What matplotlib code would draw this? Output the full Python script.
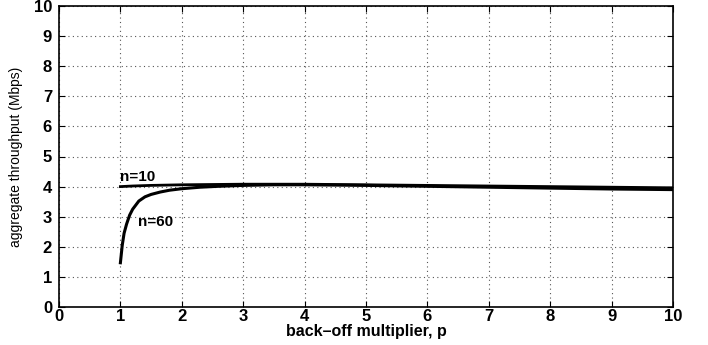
import matplotlib
matplotlib.use("Agg")
import matplotlib.pyplot as plt

# back-off multiplier values and throughput
p_n10 = [1.0, 1.2, 1.5, 2.0, 2.5, 3.0, 3.5, 4.0, 5.0, 6.0, 7.0, 8.0, 9.0, 10.0]
thr_n10 = [4.00, 4.02, 4.04, 4.06, 4.07, 4.08, 4.08, 4.08, 4.06, 4.04, 4.02, 4.00, 3.98, 3.96]

p_n60 = [1.0, 1.03, 1.06, 1.1, 1.15, 1.2, 1.3, 1.4, 1.5, 1.65, 1.8, 2.0, 2.3, 2.6,
         3.0, 3.5, 4.0, 5.0, 6.0, 7.0, 8.0, 9.0, 10.0]
thr_n60 = [1.47, 2.05, 2.45, 2.75, 3.05, 3.25, 3.52, 3.66, 3.74, 3.82, 3.88, 3.93, 3.98, 4.01,
           4.04, 4.06, 4.06, 4.04, 4.01, 3.98, 3.95, 3.92, 3.90]

xticks = list(range(0, 11))
yticks = list(range(0, 11))

plt.rcParams['font.family'] = ['Liberation Sans', 'DejaVu Sans']

fig = plt.figure(figsize=(7.08, 3.45), dpi=100)
ax = fig.add_axes([59 / 708, 38 / 345, 614 / 708, 301 / 345])

ax.plot(p_n10, thr_n10, color='black', linewidth=2)
ax.plot(p_n60, thr_n60, color='black', linewidth=2.2)

ax.text(1.0, 4.2, 'n=10', fontsize=11, fontweight='bold')
ax.text(1.28, 2.7, 'n=60', fontsize=11, fontweight='bold')

ax.set_xlim(0, 10)
ax.set_ylim(0, 10)
ax.set_xticks(xticks)
ax.set_yticks(yticks)
ax.tick_params(direction='in', length=4, width=0.8, top=True, right=True,
               labelsize=12)
ax.tick_params(axis='x', pad=1.5)
ax.tick_params(axis='y', pad=5)
for lab in ax.get_xticklabels() + ax.get_yticklabels():
    lab.set_fontweight('bold')

ax.grid(True, linestyle=(0, (1, 3)), color='#555555', linewidth=0.8)
for s in ax.spines.values():
    s.set_linewidth(1.2)

ax.set_xlabel('back\u2013off multiplier, p', fontsize=11.5, fontweight='bold', labelpad=0)
ax.set_ylabel('aggregate throughput (Mbps)', fontsize=10, labelpad=8)

fig.savefig('out.png', dpi=100)
